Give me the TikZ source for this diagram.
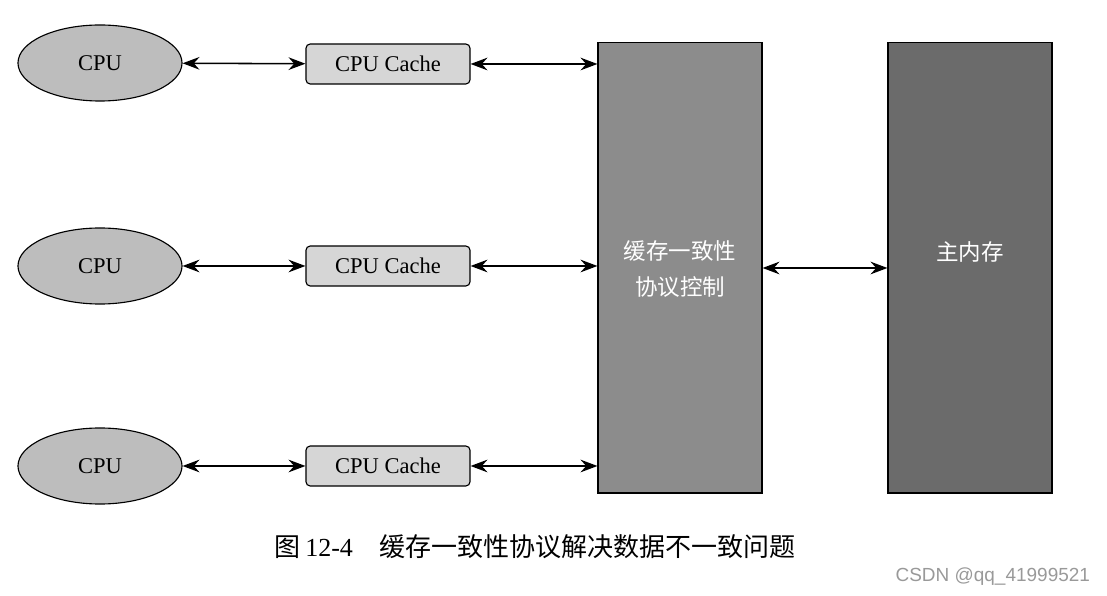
\documentclass[tikz,border=0pt]{standalone}
\usepackage{fontspec}
\setmainfont{Liberation Serif}
\newfontfamily\cjk{Noto Sans CJK SC}
\newfontfamily\markfont{Liberation Sans}
\usetikzlibrary{arrows.meta,shapes.geometric}

\definecolor{cpugray}{HTML}{BDBDBD}
\definecolor{cachegray}{HTML}{D6D6D6}
\definecolor{ctrlgray}{HTML}{8C8C8C}
\definecolor{memgray}{HTML}{6B6B6B}

\tikzset{
    cpu/.style={ellipse, draw, thick, fill=cpugray, inner sep=0pt,
        minimum width=4.1cm, minimum height=1.9cm,
        font=\fontsize{16}{18}\selectfont},
    cache/.style={rectangle, draw, thick, rounded corners=3pt, fill=cachegray,
        minimum width=4.1cm, minimum height=1cm,
        font=\fontsize{16}{18}\selectfont},
    bigbox/.style={rectangle, draw, thick, minimum width=4.1cm, minimum height=11.25cm},
    boxtext/.style={text=white, align=center, font=\cjk\fontsize{16}{25}\selectfont},
    bus/.style={{Stealth[length=12pt,width=9pt,inset=4pt]}-{Stealth[length=12pt,width=9pt,inset=4pt]}, line width=1.1pt}
}

\begin{document}
\begin{tikzpicture}[x=0.025cm, y=-0.025cm]
    \useasboundingbox (0,0) rectangle (1107,596);

    % processors
    \node[cpu] (cpu1) at (100,63) {CPU};
    \node[cpu] (cpu2) at (100,266) {CPU};
    \node[cpu] (cpu3) at (100,466) {CPU};

    % private caches
    \node[cache] (cache1) at (388,64) {CPU Cache};
    \node[cache] (cache2) at (388,266) {CPU Cache};
    \node[cache] (cache3) at (388,466) {CPU Cache};

    % protocol and memory
    \node[bigbox, fill=ctrlgray] (ctrl) at (680,268) {};
    \node[bigbox, fill=memgray] (mem) at (970,268) {};
    \node[boxtext] (ctrltext) at (680,269) {缓存一致性\\协议控制};
    \node[boxtext] (memtext) at (970,252) {主内存};

    \draw[bus] (cpu1) -- (cache1);
    \draw[bus] (cpu2) -- (cache2);
    \draw[bus] (cpu3) -- (cache3);
    \draw[bus] (cache1) -- (cache1 -| ctrl.west);
    \draw[bus] (cache2) -- (cache2 -| ctrl.west);
    \draw[bus] (cache3) -- (cache3 -| ctrl.west);
    \draw[bus] (ctrl) -- (mem);

    \node[anchor=west, font=\fontsize{18.5}{22}\selectfont] (caption) at (270,547)
        {{\cjk 图}\,12-4\quad{\cjk 缓存一致性协议解决数据不一致问题}};
    \node[anchor=east, text=gray!80, font=\markfont\fontsize{13.5}{16}\selectfont] (mark) at (1095,577)
        {CSDN @qq\_41999521};
\end{tikzpicture}
\end{document}
